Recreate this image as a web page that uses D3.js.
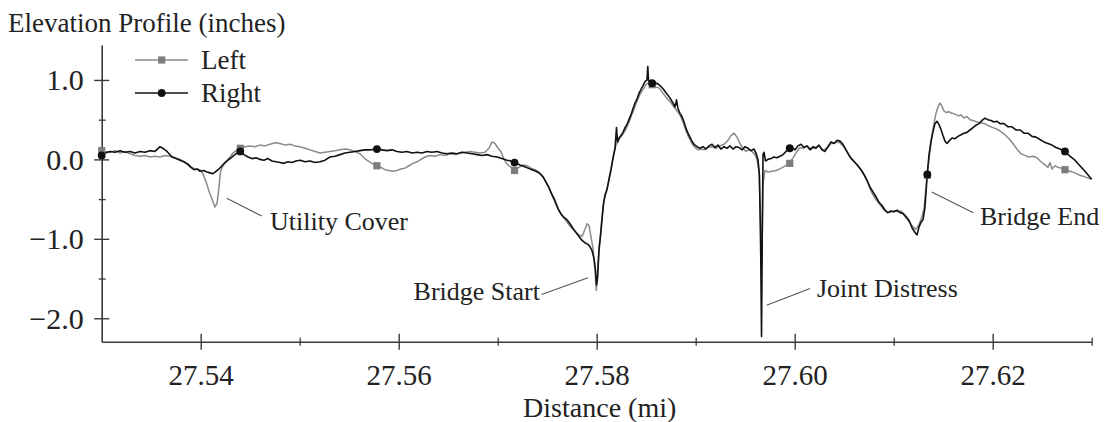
<!DOCTYPE html>
<html><head><meta charset="utf-8">
<script src="https://cdn.jsdelivr.net/npm/d3@7/dist/d3.min.js"></script>
<style>
html,body{margin:0;padding:0;background:#fff;}
svg text{font-family:"Liberation Serif","Times New Roman",serif;fill:#222;}
</style></head>
<body><svg id="chart" width="1105" height="422"></svg>
<script>
// ---- Data (distance in miles, elevation in inches) ----
const rightDist = [27.53000,27.53033,27.53084,27.53134,27.53185,27.53235,27.53286,27.53336,27.53387,27.53437,27.53488,27.53538,27.53589,27.53619,27.53660,27.53710,27.53751,27.53791,27.53831,27.53872,27.53902,27.53932,27.53963,27.53993,27.54033,27.54064,27.54094,27.54124,27.54155,27.54185,27.54215,27.54245,27.54276,27.54306,27.54336,27.54367,27.54397,27.54437,27.54478,27.54518,27.54559,27.54599,27.54639,27.54680,27.54720,27.54761,27.54801,27.54841,27.54882,27.54922,27.54963,27.55003,27.55054,27.55104,27.55155,27.55205,27.55256,27.55306,27.55357,27.55407,27.55458,27.55508,27.55559,27.55609,27.55660,27.55710,27.55781,27.55831,27.55882,27.55932,27.55983,27.56033,27.56084,27.56134,27.56185,27.56235,27.56286,27.56336,27.56387,27.56437,27.56488,27.56538,27.56589,27.56639,27.56690,27.56740,27.56791,27.56841,27.56892,27.56942,27.56993,27.57043,27.57094,27.57134,27.57175,27.57225,27.57266,27.57306,27.57346,27.57387,27.57427,27.57458,27.57488,27.57518,27.57548,27.57579,27.57609,27.57639,27.57670,27.57700,27.57730,27.57761,27.57791,27.57821,27.57852,27.57882,27.57912,27.57933,27.57953,27.57973,27.57988,27.57998,27.58008,27.58023,27.58038,27.58054,27.58069,27.58084,27.58104,27.58124,27.58144,27.58165,27.58185,27.58200,27.58210,27.58225,27.58245,27.58266,27.58286,27.58306,27.58326,27.58346,27.58367,27.58387,27.58407,27.58427,27.58447,27.58468,27.58488,27.58508,27.58516,27.58524,27.58548,27.58569,27.58589,27.58609,27.58639,27.58670,27.58700,27.58730,27.58751,27.58771,27.58791,27.58806,27.58821,27.58841,27.58861,27.58882,27.58902,27.58922,27.58942,27.58962,27.58983,27.59013,27.59043,27.59074,27.59104,27.59134,27.59165,27.59195,27.59225,27.59255,27.59286,27.59316,27.59346,27.59377,27.59407,27.59437,27.59468,27.59498,27.59528,27.59559,27.59589,27.59609,27.59629,27.59644,27.59657,27.59665,27.59672,27.59680,27.59690,27.59705,27.59730,27.59761,27.59791,27.59821,27.59852,27.59882,27.59912,27.59942,27.59973,27.60003,27.60033,27.60064,27.60094,27.60124,27.60155,27.60185,27.60215,27.60245,27.60276,27.60306,27.60336,27.60367,27.60397,27.60427,27.60458,27.60488,27.60518,27.60548,27.60579,27.60609,27.60639,27.60670,27.60700,27.60730,27.60761,27.60791,27.60821,27.60852,27.60882,27.60912,27.60942,27.60973,27.61003,27.61033,27.61064,27.61094,27.61124,27.61155,27.61185,27.61215,27.61236,27.61256,27.61276,27.61296,27.61316,27.61339,27.61356,27.61376,27.61397,27.61417,27.61437,27.61457,27.61477,27.61498,27.61518,27.61538,27.61558,27.61589,27.61619,27.61649,27.61680,27.61710,27.61740,27.61771,27.61801,27.61831,27.61862,27.61892,27.61922,27.61952,27.61983,27.62013,27.62044,27.62074,27.62114,27.62155,27.62195,27.62235,27.62276,27.62316,27.62356,27.62397,27.62437,27.62477,27.62518,27.62558,27.62599,27.62639,27.62679,27.62730,27.62780,27.62831,27.62881,27.62932,27.62972,27.63000];
const rightElev = [0.05,0.08,0.10,0.09,0.11,0.09,0.10,0.08,0.10,0.09,0.11,0.10,0.16,0.14,0.10,0.03,0.01,-0.01,-0.03,-0.06,-0.10,-0.13,-0.12,-0.15,-0.14,-0.16,-0.17,-0.18,-0.15,-0.12,-0.08,-0.04,-0.01,0.02,0.05,0.08,0.10,0.06,0.03,0.01,0.02,0.00,-0.01,0.01,-0.02,-0.03,-0.04,-0.05,-0.03,-0.04,-0.02,-0.01,-0.03,-0.02,-0.04,-0.03,-0.01,0.03,0.04,0.06,0.08,0.09,0.10,0.11,0.12,0.12,0.13,0.12,0.11,0.12,0.10,0.09,0.10,0.08,0.09,0.08,0.10,0.09,0.10,0.08,0.07,0.08,0.07,0.09,0.08,0.07,0.06,0.05,0.06,0.04,0.03,0.01,-0.01,-0.02,-0.04,-0.07,-0.09,-0.11,-0.13,-0.15,-0.18,-0.22,-0.29,-0.36,-0.44,-0.52,-0.62,-0.69,-0.73,-0.76,-0.81,-0.87,-0.92,-0.97,-1.02,-1.05,-1.07,-1.10,-1.15,-1.25,-1.40,-1.58,-1.50,-1.15,-0.97,-0.75,-0.55,-0.45,-0.38,-0.25,-0.13,0.02,0.14,0.40,0.22,0.27,0.30,0.34,0.40,0.44,0.50,0.56,0.64,0.71,0.76,0.83,0.88,0.93,0.98,1.00,1.17,0.99,0.97,0.98,0.95,0.96,0.93,0.89,0.84,0.79,0.75,0.71,0.66,0.75,0.64,0.58,0.54,0.47,0.39,0.33,0.28,0.23,0.19,0.16,0.14,0.16,0.13,0.17,0.19,0.15,0.18,0.13,0.16,0.14,0.17,0.13,0.16,0.15,0.12,0.16,0.14,0.11,0.13,0.08,0.00,-0.20,-1.20,-2.23,-1.00,0.06,0.09,-0.02,0.00,0.01,0.03,0.02,0.04,0.06,0.10,0.14,0.15,0.12,0.17,0.19,0.15,0.17,0.12,0.16,0.14,0.18,0.12,0.10,0.16,0.22,0.20,0.24,0.23,0.19,0.12,0.05,0.00,-0.04,-0.08,-0.13,-0.19,-0.26,-0.35,-0.41,-0.47,-0.54,-0.58,-0.64,-0.67,-0.65,-0.66,-0.64,-0.67,-0.68,-0.72,-0.77,-0.86,-0.92,-0.95,-0.85,-0.79,-0.76,-0.60,-0.19,0.05,0.22,0.35,0.45,0.48,0.44,0.38,0.30,0.23,0.20,0.23,0.27,0.26,0.29,0.31,0.33,0.34,0.37,0.40,0.43,0.45,0.49,0.52,0.50,0.49,0.47,0.48,0.45,0.45,0.41,0.41,0.37,0.37,0.33,0.33,0.29,0.28,0.25,0.22,0.20,0.18,0.15,0.13,0.10,0.04,-0.01,-0.08,-0.15,-0.21,-0.25];

const leftDist = [27.53000,27.53033,27.53084,27.53134,27.53185,27.53235,27.53286,27.53336,27.53387,27.53437,27.53488,27.53538,27.53589,27.53639,27.53690,27.53740,27.53791,27.53841,27.53892,27.53942,27.53993,27.54023,27.54054,27.54084,27.54114,27.54144,27.54165,27.54185,27.54200,27.54225,27.54256,27.54296,27.54326,27.54367,27.54397,27.54447,27.54498,27.54548,27.54599,27.54649,27.54700,27.54751,27.54801,27.54852,27.54902,27.54953,27.55003,27.55054,27.55104,27.55155,27.55205,27.55256,27.55306,27.55357,27.55407,27.55458,27.55508,27.55559,27.55609,27.55650,27.55690,27.55730,27.55781,27.55821,27.55862,27.55902,27.55942,27.55983,27.56023,27.56064,27.56104,27.56144,27.56185,27.56225,27.56265,27.56316,27.56367,27.56417,27.56468,27.56518,27.56568,27.56619,27.56669,27.56720,27.56770,27.56821,27.56871,27.56912,27.56942,27.56973,27.57003,27.57033,27.57064,27.57094,27.57124,27.57175,27.57215,27.57256,27.57296,27.57336,27.57377,27.57417,27.57458,27.57488,27.57518,27.57548,27.57579,27.57609,27.57639,27.57670,27.57700,27.57730,27.57761,27.57791,27.57821,27.57852,27.57882,27.57902,27.57922,27.57943,27.57963,27.57983,27.57996,27.58008,27.58023,27.58038,27.58054,27.58074,27.58094,27.58114,27.58134,27.58154,27.58175,27.58195,27.58215,27.58235,27.58255,27.58276,27.58296,27.58316,27.58336,27.58356,27.58377,27.58397,27.58417,27.58437,27.58457,27.58478,27.58498,27.58518,27.58538,27.58569,27.58599,27.58629,27.58660,27.58690,27.58720,27.58751,27.58781,27.58811,27.58841,27.58861,27.58882,27.58902,27.58922,27.58942,27.58962,27.58993,27.59023,27.59053,27.59084,27.59124,27.59165,27.59205,27.59245,27.59286,27.59326,27.59356,27.59387,27.59417,27.59447,27.59477,27.59508,27.59538,27.59568,27.59599,27.59619,27.59639,27.59654,27.59668,27.59680,27.59700,27.59730,27.59771,27.59811,27.59852,27.59892,27.59945,27.59983,27.60023,27.60054,27.60084,27.60124,27.60165,27.60205,27.60245,27.60286,27.60326,27.60367,27.60407,27.60447,27.60488,27.60528,27.60568,27.60609,27.60649,27.60680,27.60710,27.60740,27.60771,27.60801,27.60831,27.60862,27.60892,27.60922,27.60952,27.60983,27.61013,27.61043,27.61074,27.61104,27.61134,27.61165,27.61195,27.61225,27.61256,27.61286,27.61306,27.61326,27.61346,27.61366,27.61386,27.61407,27.61427,27.61447,27.61467,27.61487,27.61508,27.61528,27.61558,27.61589,27.61619,27.61649,27.61680,27.61710,27.61740,27.61771,27.61801,27.61841,27.61882,27.61922,27.61962,27.62003,27.62044,27.62084,27.62124,27.62165,27.62205,27.62245,27.62286,27.62326,27.62366,27.62407,27.62447,27.62487,27.62528,27.62558,27.62579,27.62599,27.62629,27.62659,27.62690,27.62730,27.62780,27.62831,27.62881,27.62932,27.63000];
const leftElev = [0.11,0.10,0.09,0.11,0.08,0.10,0.07,0.05,0.04,0.05,0.03,0.04,0.03,0.05,0.04,0.02,0.00,-0.04,-0.09,-0.12,-0.13,-0.18,-0.28,-0.40,-0.50,-0.60,-0.55,-0.35,-0.15,-0.08,-0.03,0.03,0.08,0.12,0.14,0.16,0.17,0.16,0.18,0.17,0.19,0.21,0.20,0.18,0.19,0.17,0.16,0.14,0.12,0.10,0.08,0.09,0.10,0.11,0.12,0.13,0.12,0.10,0.07,0.02,-0.02,-0.05,-0.08,-0.10,-0.13,-0.14,-0.15,-0.14,-0.12,-0.11,-0.08,-0.05,-0.03,0.00,0.03,0.05,0.04,0.06,0.05,0.07,0.06,0.08,0.09,0.10,0.09,0.08,0.09,0.14,0.22,0.20,0.14,0.10,0.00,-0.06,-0.09,-0.13,-0.10,-0.07,-0.08,-0.11,-0.13,-0.16,-0.22,-0.28,-0.35,-0.45,-0.54,-0.62,-0.68,-0.74,-0.79,-0.84,-0.88,-0.92,-0.95,-0.97,-0.88,-0.81,-0.83,-0.98,-1.12,-1.40,-1.65,-1.45,-1.10,-0.95,-0.72,-0.52,-0.42,-0.32,-0.20,-0.06,0.08,0.18,0.22,0.27,0.30,0.34,0.38,0.44,0.50,0.57,0.63,0.70,0.76,0.82,0.86,0.90,0.94,0.96,0.94,0.93,0.91,0.90,0.85,0.80,0.75,0.71,0.66,0.61,0.56,0.50,0.44,0.36,0.30,0.25,0.20,0.15,0.12,0.13,0.12,0.15,0.16,0.14,0.17,0.19,0.24,0.30,0.33,0.28,0.20,0.14,0.10,0.12,0.10,0.06,0.00,-0.15,-0.70,-1.30,-0.30,-0.14,-0.16,-0.15,-0.14,-0.12,-0.09,-0.05,0.02,0.10,0.15,0.14,0.17,0.13,0.15,0.17,0.12,0.14,0.20,0.21,0.22,0.17,0.10,0.02,-0.04,-0.10,-0.15,-0.22,-0.30,-0.40,-0.47,-0.52,-0.57,-0.62,-0.66,-0.67,-0.66,-0.65,-0.66,-0.65,-0.70,-0.75,-0.80,-0.85,-0.88,-0.82,-0.72,-0.62,-0.35,-0.10,0.10,0.30,0.45,0.58,0.66,0.71,0.67,0.61,0.59,0.60,0.58,0.57,0.55,0.56,0.52,0.54,0.50,0.49,0.47,0.46,0.45,0.42,0.40,0.38,0.35,0.31,0.26,0.20,0.13,0.07,0.05,0.03,0.04,0.02,-0.03,-0.07,-0.10,-0.04,-0.12,-0.08,-0.10,-0.11,-0.13,-0.15,-0.17,-0.20,-0.22,-0.25];

const markerDist = [27.5300,27.5440,27.5578,27.5717,27.5856,27.5995,27.6134,27.6273];
const leftMarkerElev = [0.11,0.14,-0.08,-0.14,0.94,-0.05,-0.20,-0.13];
const rightMarkerElev = [0.05,0.10,0.13,-0.04,0.96,0.14,-0.19,0.10];

const xMajorTicks = [27.54,27.56,27.58,27.60,27.62];
const xMinorTicks = [27.55,27.57,27.59,27.61,27.63];
const yMajorTicks = [-2.0,-1.0,0.0,1.0];
const yMinorTicks = [-1.5,-0.5,0.5];

const seriesNames = ["Left","Right"];
const annoLabels = ["Utility Cover","Bridge Start","Joint Distress","Bridge End"];
const annoFromDist = [27.54263,27.57912,27.59717,27.61384];
const annoFromElev = [-0.49,-1.49,-1.835,-0.41];
const annoToDist = [27.54616,27.57444,27.60155,27.61804];
const annoToElev = [-0.714,-1.70,-1.625,-0.673];
const annoTextDist = [27.5470,27.57427,27.60225,27.61872];
const annoTextElev = [-0.89,-1.765,-1.734,-0.829];
const annoAnchor = ["start","end","start","start"];

// ---- Chart ----
const svg = d3.select("#chart");
const x = d3.scaleLinear().domain([27.53,27.63]).range([101.7,1091.7]);
const y = d3.scaleLinear().domain([-2.295,1.44]).range([341.7,45]);
const axisColor = "#3a3a3a";

// x axis
const gx = svg.append("g").attr("transform",`translate(0,${y(-2.295)})`);
gx.call(d3.axisBottom(x).tickValues(xMajorTicks).tickFormat(d3.format(".2f")).tickSizeOuter(0));
gx.select(".domain").attr("stroke",axisColor).attr("stroke-width",1.6);
gx.selectAll(".tick line").attr("stroke",axisColor).attr("stroke-width",1.4).attr("y1",-8).attr("y2",8);
gx.selectAll(".tick text").attr("y",43.5).attr("dy",null).attr("font-size",29).attr("font-family","Liberation Serif, serif").attr("fill","#222");
const gxm = svg.append("g").attr("transform",`translate(0,${y(-2.295)})`);
gxm.call(d3.axisBottom(x).tickValues(xMinorTicks).tickFormat("").tickSizeOuter(0));
gxm.select(".domain").remove();
gxm.selectAll(".tick line").attr("stroke",axisColor).attr("stroke-width",1.3).attr("y1",-4).attr("y2",4);

// y axis
const gy = svg.append("g").attr("transform",`translate(${x(27.53)},0)`);
gy.call(d3.axisLeft(y).tickValues(yMajorTicks).tickFormat(d => d3.format(".1f")(d).replace("-","\u2212")).tickSizeOuter(0));
gy.select(".domain").attr("stroke",axisColor).attr("stroke-width",1.6);
gy.selectAll(".tick line").attr("stroke",axisColor).attr("stroke-width",1.4).attr("x1",-7.5).attr("x2",7.5);
gy.selectAll(".tick text").attr("x",-18).attr("dy","0.33em").attr("font-size",30).attr("font-family","Liberation Serif, serif").attr("fill","#222");
const gym = svg.append("g").attr("transform",`translate(${x(27.53)},0)`);
gym.call(d3.axisLeft(y).tickValues(yMinorTicks).tickFormat("").tickSizeOuter(0));
gym.select(".domain").remove();
gym.selectAll(".tick line").attr("stroke",axisColor).attr("stroke-width",1.3).attr("x1",-3).attr("x2",4);

// titles
svg.append("text").attr("x",8).attr("y",32).attr("font-size",27).text("Elevation Profile (inches)");
svg.append("text").attr("x",(x.range()[0]+x.range()[1])/2+3).attr("y",417).attr("text-anchor","middle").attr("font-size",28).text("Distance (mi)");

// lines
const line = d3.line().x(d => x(d[0])).y(d => y(d[1]));
const leftData = d3.zip(leftDist,leftElev);
const rightData = d3.zip(rightDist,rightElev);
const grayC = "#8a8a8a", grayM = "#7d7d7d", blackC = "#111";

svg.append("path").datum(leftData).attr("d",line).attr("fill","none").attr("stroke",grayC).attr("stroke-width",1.5).attr("stroke-linejoin","round");
svg.append("path").datum(rightData).attr("d",line).attr("fill","none").attr("stroke",blackC).attr("stroke-width",1.6).attr("stroke-linejoin","round");

svg.append("g").selectAll("rect").data(d3.zip(markerDist,leftMarkerElev)).join("rect")
  .attr("x",d=>x(d[0])-3.6).attr("y",d=>y(d[1])-3.6).attr("width",7.2).attr("height",7.2).attr("fill",grayM);
svg.append("g").selectAll("circle").data(d3.zip(markerDist,rightMarkerElev)).join("circle")
  .attr("cx",d=>x(d[0])).attr("cy",d=>y(d[1])).attr("r",3.9).attr("fill",blackC);

// legend
const lg = svg.append("g");
const legY = [60,93];
seriesNames.forEach((name,i) => {
  lg.append("line").attr("x1",135).attr("x2",188).attr("y1",legY[i]).attr("y2",legY[i])
    .attr("stroke", i===0?grayC:blackC).attr("stroke-width",1.5);
  if (i===0) lg.append("rect").attr("x",161.7-3.6).attr("y",legY[i]-3.6).attr("width",7.2).attr("height",7.2).attr("fill",grayM);
  else lg.append("circle").attr("cx",161.7).attr("cy",legY[i]).attr("r",3.9).attr("fill",blackC);
  lg.append("text").attr("x",201).attr("y",legY[i]+8.5).attr("font-size",27).text(name);
});

// annotations
annoLabels.forEach((lab,i) => {
  svg.append("line").attr("x1",x(annoFromDist[i])).attr("y1",y(annoFromElev[i]))
    .attr("x2",x(annoToDist[i])).attr("y2",y(annoToElev[i]))
    .attr("stroke","#555").attr("stroke-width",1.1);
  svg.append("text").attr("x",x(annoTextDist[i])).attr("y",y(annoTextElev[i]))
    .attr("text-anchor",annoAnchor[i]).attr("font-size",26).text(lab);
});
</script></body></html>
